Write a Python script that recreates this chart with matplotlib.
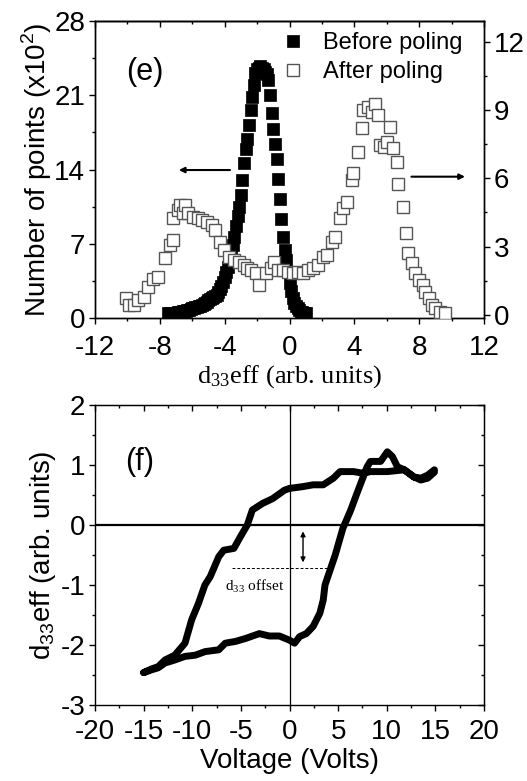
import matplotlib
matplotlib.use("Agg")
import matplotlib.pyplot as plt
from matplotlib.ticker import MultipleLocator

SANS = "Liberation Sans"
SERIF = "Liberation Serif"
plt.rcParams['font.family'] = [SANS, 'DejaVu Sans']
plt.rcParams['axes.unicode_minus'] = False

# ---------------- Panel (e) data ----------------
before_x = [-7.5, -7.4, -7.3, -7.2, -7.1, -7.0, -6.9, -6.8, -6.7, -6.6, -6.5, -6.4, -6.3, -6.2, -6.1,
            -6.0, -5.9, -5.8, -5.7, -5.6, -5.5, -5.4, -5.3, -5.2, -5.1, -5.0, -4.9, -4.8, -4.7, -4.6,
            -4.5, -4.4, -4.3, -4.2, -4.1, -4.0, -3.9, -3.8, -3.7, -3.6, -3.5, -3.4, -3.3, -3.2, -3.1,
            -3.0, -2.9, -2.8, -2.7, -2.6, -2.5, -2.4, -2.3, -2.2, -2.1, -2.0, -1.9, -1.8, -1.7, -1.6,
            -1.5, -1.4, -1.3, -1.2, -1.1, -1.0, -0.9, -0.8, -0.7, -0.6, -0.5, -0.4, -0.3, -0.2, -0.1,
            0.0, 0.1, 0.2, 0.3, 0.4, 0.5, 0.6, 0.7, 0.8, 0.9, 1.0]
before_y = [0.45, 0.45, 0.46, 0.47, 0.48, 0.5, 0.52, 0.55, 0.58, 0.62, 0.66, 0.7, 0.75, 0.8, 0.85,
            0.9, 0.95, 1.0, 1.05, 1.1, 1.15, 1.25, 1.35, 1.45, 1.55, 1.65, 1.75, 1.85, 1.95, 2.05,
            2.2, 2.45, 2.75, 3.05, 3.4, 3.9, 4.3, 4.8, 5.3, 6.0, 6.9, 7.6, 8.7, 9.6, 10.5,
            11.6, 13.0, 14.6, 15.9, 16.9, 18.2, 19.6, 20.8, 22.0, 23.1, 23.5, 23.6, 23.8, 23.6, 23.5,
            23.2, 23.0, 22.4, 21.0, 19.3, 17.8, 16.4, 15.0, 13.1, 11.2, 9.3, 7.6, 6.4, 5.5, 4.3,
            3.3, 2.5, 1.9, 1.4, 1.1, 0.9, 0.75, 0.6, 0.55, 0.5, 0.45]

after_x = [-10.10, -9.89, -9.58, -9.37, -8.95, -8.74, -8.43, -8.12, -7.70, -7.39, -7.18, -7.18,
           -6.87, -6.77, -6.56, -6.45, -6.25, -5.93, -5.62, -5.41, -5.10, -4.79, -4.58, -4.27,
           -4.06, -3.75, -3.44, -3.12, -2.81, -2.60, -2.39, -2.08, -1.87, -1.46, -1.15, -0.94,
           -0.73, -0.42, -0.10, 0.21, 0.52, 0.83, 1.15, 1.46, 1.77, 2.08, 2.30, 2.60, 2.81,
           3.12, 3.33, 3.54, 3.84, 3.94, 4.25, 4.46, 4.56, 4.87, 5.07, 5.28, 5.49, 5.59, 5.80,
           6.00, 6.21, 6.41, 6.62, 6.72, 6.99, 7.20, 7.34, 7.55, 7.75, 7.96, 8.23, 8.37, 8.58,
           8.78, 8.99, 9.30, 9.60]
after_y = [0.73, 0.44, 0.44, 0.66, 0.80, 1.24, 1.60, 1.68, 2.49, 3.07, 3.29, 4.24,
           4.60, 4.82, 4.47, 4.82, 4.47, 4.31, 4.24, 4.17, 4.09, 3.95, 3.73, 3.21,
           2.85, 2.56, 2.41, 2.34, 2.19, 2.05, 1.97, 1.83, 1.32, 1.83, 2.05, 2.34,
           1.97, 1.97, 1.90, 1.83, 1.90, 1.83, 1.97, 2.05, 2.19, 2.56, 2.63, 3.21, 3.43,
           4.24, 4.68, 4.97, 5.92, 6.21, 7.16, 8.19, 8.99, 9.14, 8.92, 9.28, 8.77, 7.46, 7.38,
           7.60, 8.26, 7.31, 6.72, 5.77, 4.75, 3.61, 2.70, 2.27, 1.83, 1.54, 1.32, 1.02, 0.73,
           0.44, 0.29, 0.15, 0.07]

e_xticks = [-12, -8, -4, 0, 4, 8, 12]
e_left_ticks = [0, 7, 14, 21, 28]
e_right_ticks = [0, 3, 6, 9, 12]

# ---------------- Panel (f) data ----------------
lower_v = [-15.0, -14.3, -13.5, -12.8, -11.8, -10.75, -9.7, -8.67, -7.28, -6.6, -5.55, -4.5,
           -3.1, -2.08, -1.04, 0.0, 0.52, 1.04, 1.73, 2.43, 3.12, 3.47, 3.65, 4.7, 5.5,
           5.8, 6.3, 6.94, 7.98, 8.32, 9.37, 10.06, 10.58, 11.1, 11.8, 12.8, 13.5, 14.2, 14.9]
lower_d = [-2.46, -2.42, -2.38, -2.3, -2.25, -2.19, -2.17, -2.11, -2.08, -1.97, -1.94, -1.89,
           -1.81, -1.85, -1.85, -1.92, -1.97, -1.86, -1.81, -1.69, -1.47, -1.25, -1.0, -0.5, -0.05,
           0.06, 0.25, 0.53, 0.97, 1.06, 1.06, 1.22, 1.14, 0.97, 0.92, 0.80, 0.78, 0.83, 0.92]
upper_v = [14.9, 14.2, 13.5, 12.8, 11.8, 10.06, 8.3, 7.63, 6.59, 5.2, 4.51, 3.47, 2.43,
           1.39, 0.0, -0.52, -1.73, -2.77, -3.82, -4.34, -5.03, -5.72, -6.76, -7.28, -8.15,
           -8.7, -9.37, -10.06, -10.75, -11.8, -12.8, -13.5, -14.2, -15.0]
upper_d = [0.88, 0.78, 0.75, 0.8, 0.92, 0.89, 0.89, 0.86, 0.89, 0.89, 0.78, 0.67, 0.67,
           0.64, 0.61, 0.58, 0.44, 0.36, 0.25, 0.0, -0.19, -0.39, -0.42, -0.53, -0.86,
           -1.0, -1.31, -1.58, -1.97, -2.17, -2.25, -2.36, -2.4, -2.46]

f_xticks = [-20, -15, -10, -5, 0, 5, 10, 15, 20]
f_yticks = [-3, -2, -1, 0, 1, 2]

# ---------------- Figure ----------------
fig = plt.figure(figsize=(5.27, 7.81), dpi=100)
TICK_FS = 20

def style_axis(ax, xpad=5):
    for s in ax.spines.values():
        s.set_linewidth(1.0)
    ax.tick_params(which='major', length=4, width=1.0, labelsize=TICK_FS)
    ax.tick_params(which='minor', length=2.5, width=1.0)
    ax.tick_params(axis='x', which='major', pad=xpad)
    ax.tick_params(axis='y', which='major', pad=3)

# Panel (e)
ax1 = fig.add_axes([95/527, 1-318/781, 389/527, 297/781])
ax1.plot(before_x, before_y, linestyle='none', marker='s', ms=8.0, mfc='black', mec='black',
         mew=0.5, label='Before poling', zorder=3)
ax1.set_xlim(-12, 12)
ax1.set_ylim(0, 28)
ax1.set_xticks(e_xticks)
ax1.set_yticks(e_left_ticks)
ax1.xaxis.set_minor_locator(MultipleLocator(2))
ax1.yaxis.set_minor_locator(MultipleLocator(3.5))
style_axis(ax1, xpad=8)
ax1.tick_params(axis='x', which='both', direction='out', top=False)
ax1.tick_params(axis='y', which='both', direction='out', right=False)
ax1.set_ylabel(r'Number of points (x10$^{\mathregular{2}}$)', fontsize=20, labelpad=0)
ax1.set_xlabel(r'$\mathregular{d_{33}eff}$ (arb. units)', fontsize=19, family=SERIF, labelpad=2)
ax1.text(-8.9, 23.2, '(e)', fontsize=22, ha='center', va='center')

ax1t = ax1.secondary_xaxis('top')
ax1t.set_xticks(e_xticks)
ax1t.xaxis.set_minor_locator(MultipleLocator(2))
ax1t.tick_params(which='major', direction='in', length=4, width=1.0, labeltop=False)
ax1t.tick_params(which='minor', direction='in', length=2.5, width=1.0)
ax1t.spines['top'].set_linewidth(1.0)

ax2 = ax1.twinx()
ax2.plot(after_x, after_y, linestyle='none', marker='s', ms=8.5, mfc='white', mec='#555555',
         mew=1.0, label='After poling', zorder=3)
ax2.set_ylim(-0.13, 12.9)
ax2.set_yticks(e_right_ticks)
ax2.yaxis.set_minor_locator(MultipleLocator(1.5))
style_axis(ax2, xpad=8)
ax2.tick_params(axis='y', which='both', direction='out')

ax1.annotate('', xy=(-7.0, 13.95), xytext=(-3.5, 13.95),
             arrowprops=dict(arrowstyle='-|>', color='black', lw=1.5, mutation_scale=8))
ax2.annotate('', xy=(11.0, 6.07), xytext=(7.35, 6.07),
             arrowprops=dict(arrowstyle='-|>', color='black', lw=1.5, mutation_scale=8))

h1, l1 = ax1.get_legend_handles_labels()
h2, l2 = ax2.get_legend_handles_labels()
leg = ax2.legend(h1 + h2, l1 + l2, loc='upper left', bbox_to_anchor=(0.478, 0.962), frameon=False,
                 fontsize=17, handlelength=1.0, handletextpad=0.8, labelspacing=0.3,
                 borderaxespad=0, borderpad=0)

# Panel (f)
ax3 = fig.add_axes([95/527, 1-705/781, 389/527, 300/781])
ax3.plot(lower_v + upper_v, lower_d + upper_d, color='black', lw=5, solid_joinstyle='round',
         solid_capstyle='round', zorder=3)
ax3.axhline(0, color='black', lw=1.6, zorder=2)
ax3.axvline(0, color='black', lw=0.9, zorder=2)
ax3.plot([-5.9, 4.0], [-0.72, -0.72], color='black', lw=0.7, linestyle=(0, (3, 2)), zorder=2)
ax3.annotate('', xy=(1.39, -0.67), xytext=(1.39, -0.06),
             arrowprops=dict(arrowstyle='<|-|>', color='black', lw=1.0, mutation_scale=7))
ax3.text(-3.6, -1.03, r'$\mathregular{d_{33}}$ offset', fontsize=11, family=SERIF,
         ha='center', va='center')
ax3.text(-15.4, 1.05, '(f)', fontsize=22, ha='center', va='center')
ax3.set_xlim(-20, 20)
ax3.set_ylim(-3, 2)
ax3.set_xticks(f_xticks)
ax3.set_yticks(f_yticks)
ax3.xaxis.set_minor_locator(MultipleLocator(2.5))
ax3.yaxis.set_minor_locator(MultipleLocator(0.5))
style_axis(ax3, xpad=6)
ax3.tick_params(axis='both', which='both', direction='out', top=False, right=False)
ax3.set_xlabel('Voltage (Volts)', fontsize=20, labelpad=2)
ax3.set_ylabel(r'$\mathregular{d_{33}eff}$ (arb. units)', fontsize=20, labelpad=2)

ax3t = ax3.secondary_xaxis('top')
ax3t.set_xticks(f_xticks)
ax3t.xaxis.set_minor_locator(MultipleLocator(2.5))
ax3t.tick_params(which='major', direction='in', length=4, width=1.0, labeltop=False)
ax3t.tick_params(which='minor', direction='in', length=2.5, width=1.0)
ax3r = ax3.secondary_yaxis('right')
ax3r.set_yticks(f_yticks)
ax3r.yaxis.set_minor_locator(MultipleLocator(0.5))
ax3r.tick_params(which='major', direction='in', length=4, width=1.0, labelright=False)
ax3r.tick_params(which='minor', direction='in', length=2.5, width=1.0)

fig.savefig('out.png', dpi=100)
